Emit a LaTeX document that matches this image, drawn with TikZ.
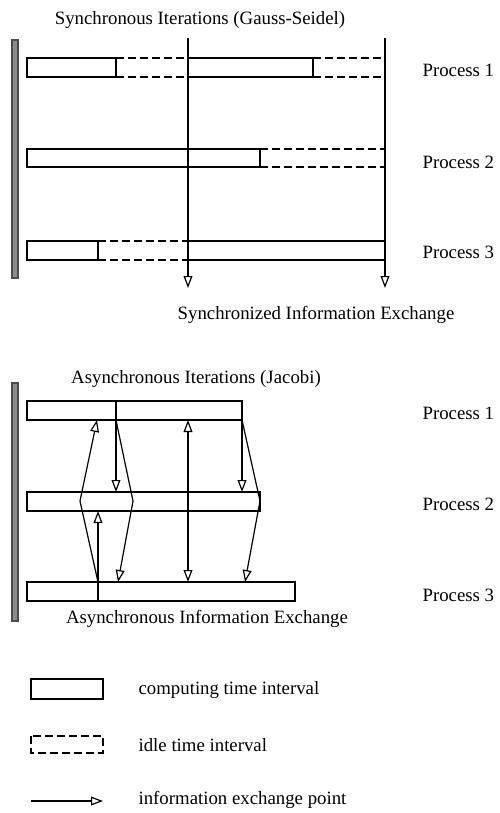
\documentclass[tikz,border=0pt]{standalone}
\usepackage{fontspec}
\setmainfont{Liberation Serif}
\usetikzlibrary{arrows.meta}

\begin{document}
\begin{tikzpicture}[x=0.5pt,y=-0.5pt,line width=0.6pt,
    font=\fontsize{9.4}{11}\selectfont,
    msg/.style={-{Triangle[open,length=6pt,width=4.4pt]}},
    both/.style={{Triangle[open,length=6pt,width=4.4pt]}-{Triangle[open,length=6pt,width=4.4pt]}},
    idle/.style={dash pattern=on 4pt off 2pt},
    bar/.style={draw=black!70,fill=black!45},
    lbl/.style={anchor=west,inner sep=0pt}]
\useasboundingbox (0,0) rectangle (499,813);

% synchronous part
\node (st) at (200,20) {Synchronous Iterations (Gauss-Seidel)};
\draw[bar] (12,40) rectangle (18,278);
\coordinate (s1) at (188,38);
\coordinate (s2) at (385,38);
\coordinate (e1) at (188,288);
\coordinate (e2) at (385,288);
\draw[msg] (s1) -- (e1);
\draw[msg] (s2) -- (e2);
\draw (27,58) rectangle (116,77);
\draw[idle] (116,58) -- (188,58) (116,77) -- (188,77);
\draw (188,58) -- (313,58) -- (313,77) -- (188,77);
\draw[idle] (313,58) -- (385,58) (313,77) -- (385,77);
\draw (27,149) rectangle (260,167);
\draw[idle] (260,149) -- (385,149) (260,167) -- (385,167);
\draw (27,241) rectangle (98,260);
\draw[idle] (98,241) -- (188,241) (98,260) -- (188,260);
\draw (188,241) -- (385,241) (188,260) -- (385,260);
\node[lbl] (sp1) at (422,70) {Process 1};
\node[lbl] (sp2) at (422,162) {Process 2};
\node[lbl] (sp3) at (422,252) {Process 3};
\node (sx) at (316,315) {Synchronized Information Exchange};

% asynchronous part
\node (at) at (196,379) {Asynchronous Iterations (Jacobi)};
\draw[bar] (12,383) rectangle (18,621);
\draw (27,401) rectangle (242,420);
\draw (27,492) rectangle (260,511);
\draw (27,582) rectangle (295,601);
\draw (116,401) -- (116,420);
\draw (98,582) -- (98,601);
\coordinate (a1) at (97,420);
\coordinate (b1) at (116,420);
\coordinate (c1) at (188,420);
\coordinate (d1) at (242,420);
\coordinate (lv) at (80,501);
\coordinate (mv) at (133,501);
\coordinate (rv) at (260,501);
\coordinate (b2) at (116,492);
\coordinate (d2) at (242,492);
\coordinate (a2) at (98,511);
\coordinate (a3) at (98,582);
\coordinate (b3) at (118,582);
\coordinate (c3) at (188,582);
\coordinate (d3) at (245,582);
\draw[msg] (a3) -- (lv) -- (a1);
\draw[msg] (a3) -- (a2);
\draw[msg] (b1) -- (b2);
\draw[msg] (b1) -- (mv) -- (b3);
\draw[both] (c1) -- (c3);
\draw[msg] (d1) -- (d2);
\draw[msg] (d1) -- (rv) -- (d3);
\node[lbl] (ap1) at (422,413) {Process 1};
\node[lbl] (ap2) at (422,504) {Process 2};
\node[lbl] (ap3) at (422,595) {Process 3};
\node (ax) at (207,619) {Asynchronous Information Exchange};

% legend
\draw (31,679) rectangle (103,699);
\draw[idle] (31,736) rectangle (103,753);
\coordinate (k1) at (31,801);
\coordinate (k2) at (103,801);
\draw[msg] (k1) -- (k2);
\node[lbl] (l1) at (138,690) {computing time interval};
\node[lbl] (l2) at (138,745) {idle time interval};
\node[lbl] (l3) at (138,800) {information exchange point};
\end{tikzpicture}
\end{document}
